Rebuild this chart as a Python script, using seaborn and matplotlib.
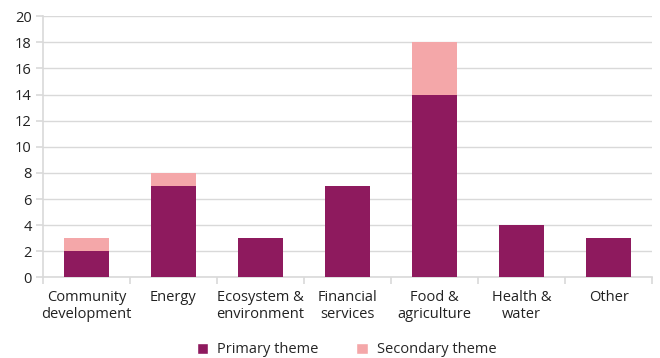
import matplotlib
matplotlib.use("Agg")
import matplotlib.pyplot as plt
import seaborn as sns
import pandas as pd
import numpy as np
from matplotlib.patches import Patch

categories = ["Community\ndevelopment", "Energy", "Ecosystem &\nenvironment",
              "Financial\nservices", "Food &\nagriculture", "Health &\nwater", "Other"]
primary = [2, 7, 3, 7, 14, 4, 3]
secondary = [1, 1, 0, 0, 4, 0, 0]
y_ticks = list(range(0, 21, 2))

PRIMARY_COLOR = "#8E1A5E"
SECONDARY_COLOR = "#F4A7A9"
GRID_COLOR = "#D9D9D9"

sns.set_theme(style="white")
plt.rcParams["font.family"] = ["Open Sans", "DejaVu Sans"]

df = pd.DataFrame({
    "category": categories,
    "primary": primary,
    "total": [p + s for p, s in zip(primary, secondary)],
})

fig, ax = plt.subplots(figsize=(6.6, 3.58), dpi=100)
fig.subplots_adjust(left=0.065, right=0.988, top=0.955, bottom=0.225)

sns.barplot(data=df, x="category", y="total", color=SECONDARY_COLOR,
            width=0.52, saturation=1, linewidth=0, edgecolor="none", ax=ax, zorder=3)
sns.barplot(data=df, x="category", y="primary", color=PRIMARY_COLOR,
            width=0.52, saturation=1, linewidth=0, edgecolor="none", ax=ax, zorder=4)

ax.set_xlim(-0.5, len(categories) - 0.5)
ax.set_ylim(0, 20)
ax.set_yticks(y_ticks)
ax.set_xlabel("")
ax.set_ylabel("")

ax.yaxis.grid(True, color=GRID_COLOR, linewidth=1, zorder=0)
ax.set_axisbelow(True)

for side in ["top", "right"]:
    ax.spines[side].set_visible(False)
for side in ["left", "bottom"]:
    ax.spines[side].set_color(GRID_COLOR)
    ax.spines[side].set_linewidth(1.2)

# category separators on the x axis
ax.set_xticks(np.arange(-0.5, len(categories), 1.0), minor=True)
ax.tick_params(axis="x", which="major", length=0, pad=9, labelsize=10.5, colors="#222222")
ax.tick_params(axis="x", which="minor", length=5, width=1.2, color=GRID_COLOR, bottom=True)
ax.tick_params(axis="y", which="major", length=5, width=1.2, color=GRID_COLOR,
               left=True, labelsize=10.5, labelcolor="#222222", pad=3)
for lab in ax.get_xticklabels():
    lab.set_linespacing(1.2)

handles = [Patch(facecolor=PRIMARY_COLOR, label="Primary theme"),
           Patch(facecolor=SECONDARY_COLOR, label="Secondary theme")]
fig.legend(handles=handles, loc="lower center", bbox_to_anchor=(0.525, -0.035),
           ncol=2, frameon=False, fontsize=10.5, handlelength=0.8, handleheight=0.8,
           columnspacing=2.6, handletextpad=0.6)

fig.savefig("out.png", dpi=100)
